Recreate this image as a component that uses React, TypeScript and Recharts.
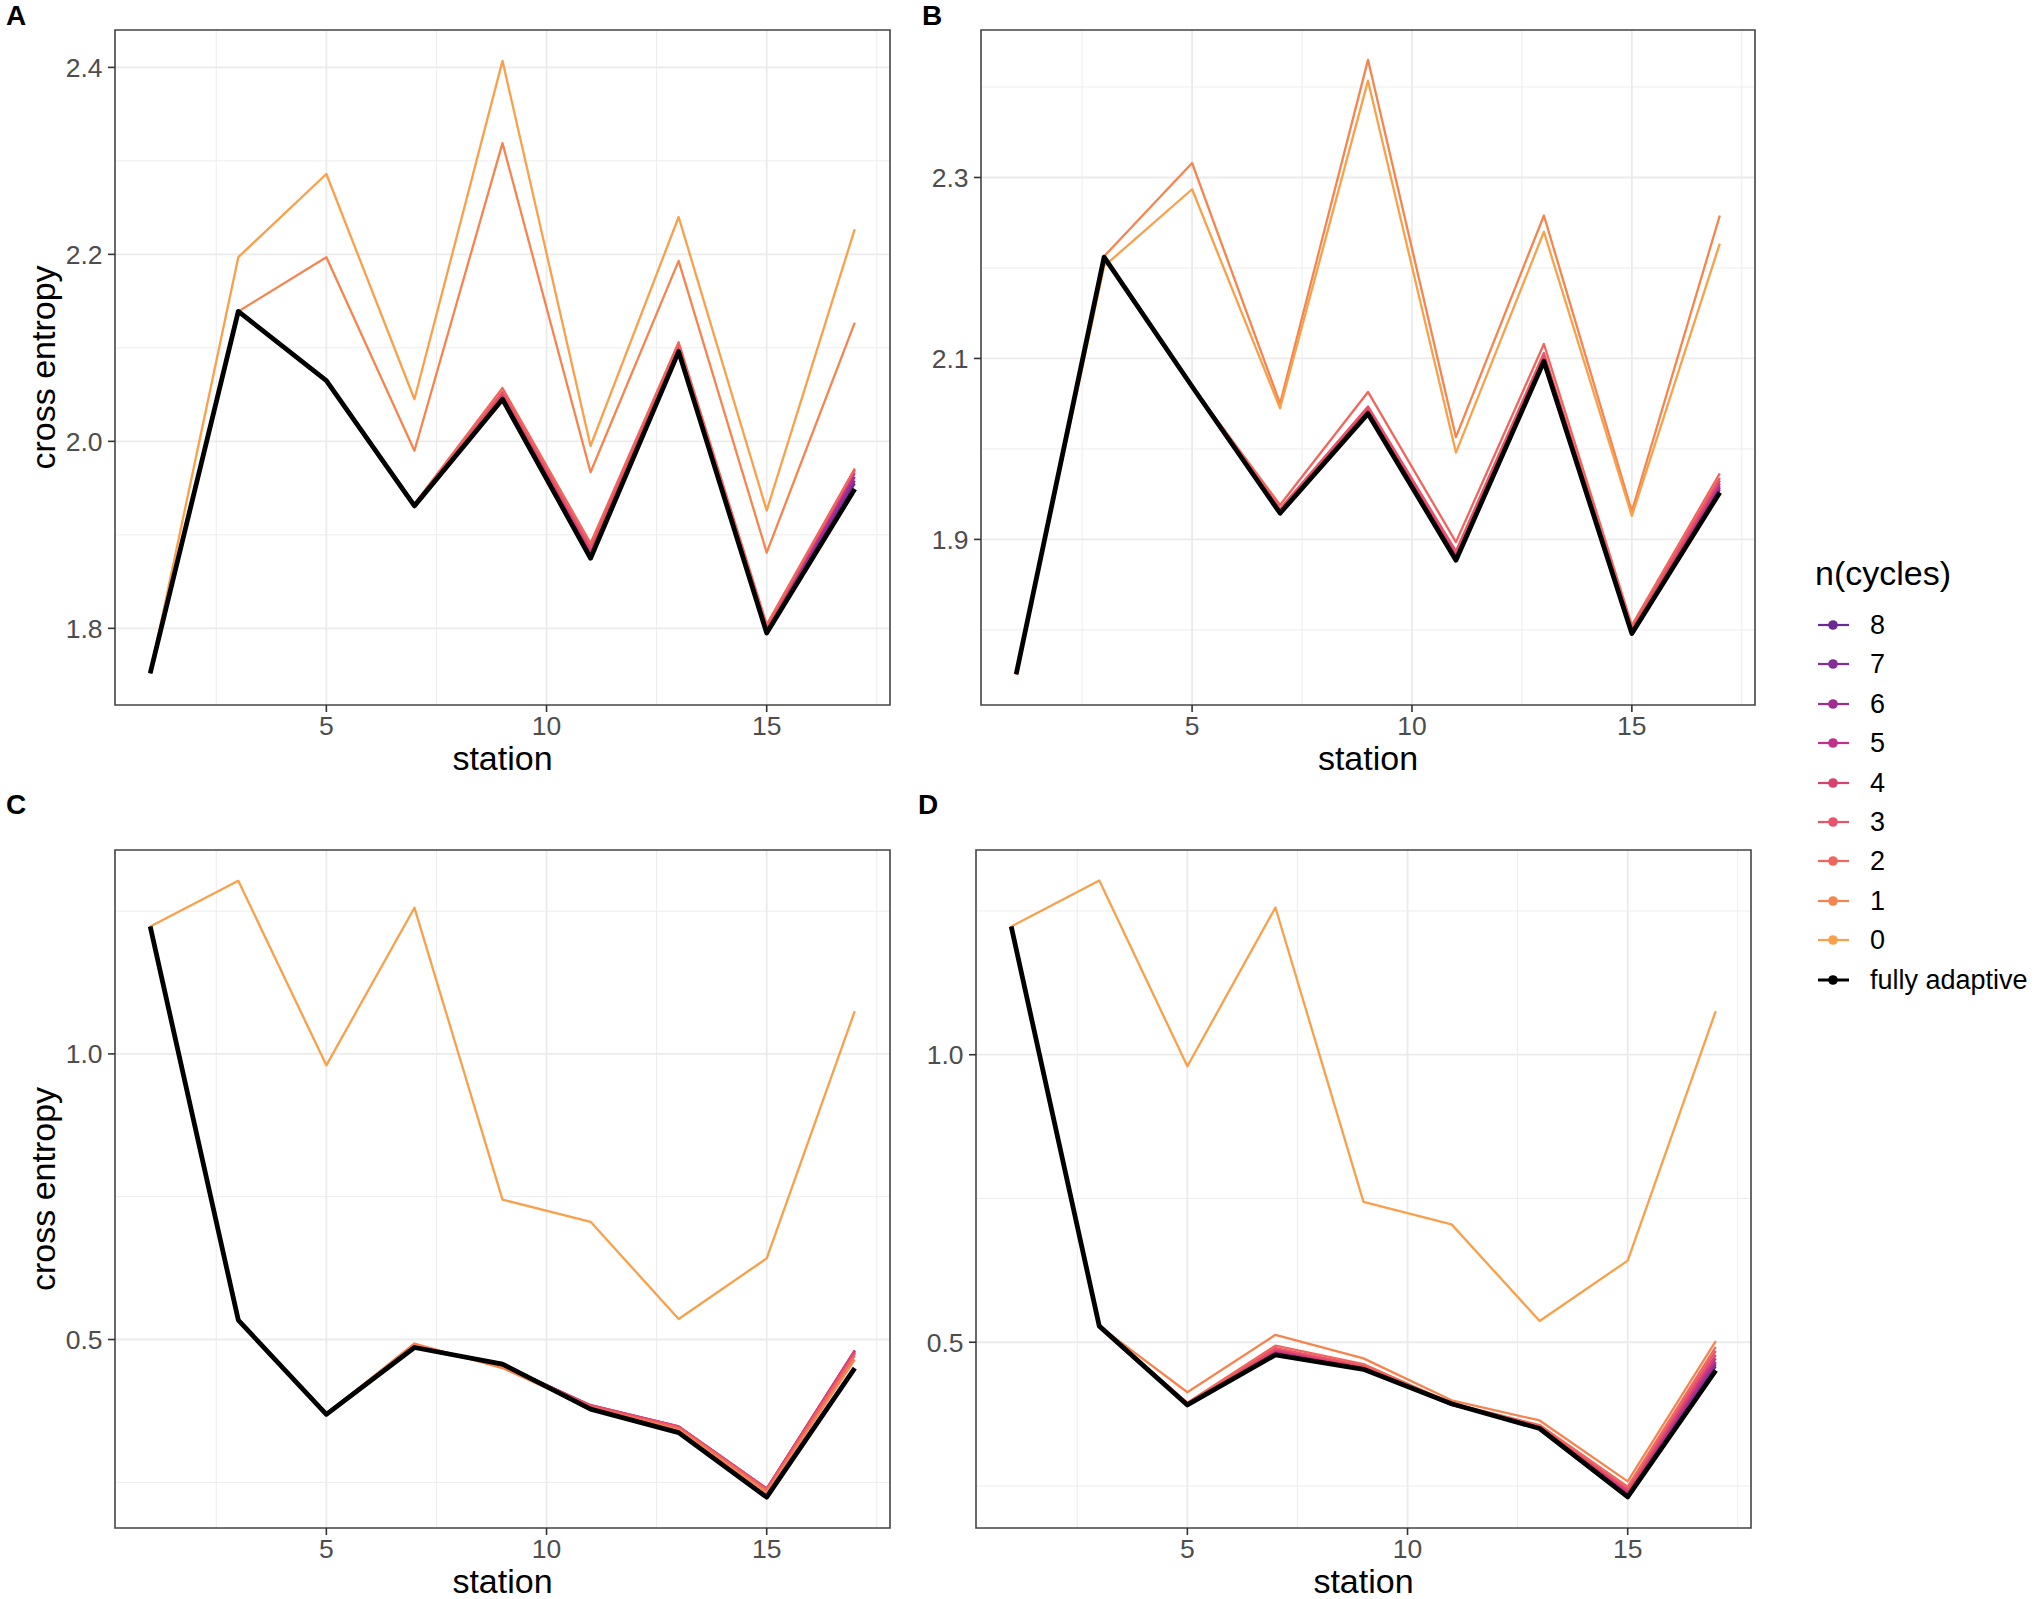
import React from 'react';
import { LineChart, Line, XAxis, YAxis, CartesianGrid, ReferenceArea, Legend, Label } from 'recharts';

const stations = [1, 3, 5, 7, 9, 11, 13, 15, 17];
const seriesKeys = ['c8', 'c7', 'c6', 'c5', 'c4', 'c3', 'c2', 'c1', 'c0', 'full'];
const seriesNames = ['8', '7', '6', '5', '4', '3', '2', '1', '0', 'fully adaptive'];
const seriesColors = ['#6b2a93', '#852e98', '#a12c91', '#c0318a', '#d8416f', '#e8526a', '#f1665c', '#f6844f', '#f9a04b', '#000000'];

const xTicks = [5, 10, 15];
const xMinor = [2.5, 7.5, 12.5, 17.5];

// panel A
const a0 = [1.752, 2.197, 2.286, 2.045, 2.407, 1.995, 2.24, 1.926, 2.227];
const a1 = [1.752, 2.139, 2.197, 1.99, 2.319, 1.967, 2.193, 1.881, 2.127];
const a2 = [1.752, 2.139, 2.065, 1.933, 2.057, 1.891, 2.106, 1.804, 1.971];
const a3 = [1.752, 2.139, 2.065, 1.932, 2.053, 1.887, 2.104, 1.802, 1.969];
const a4 = [1.752, 2.139, 2.065, 1.932, 2.051, 1.884, 2.102, 1.801, 1.97];
const a5 = [1.752, 2.139, 2.065, 1.931, 2.049, 1.882, 2.1, 1.8, 1.966];
const a6 = [1.752, 2.139, 2.065, 1.931, 2.048, 1.88, 2.099, 1.799, 1.962];
const a7 = [1.752, 2.139, 2.065, 1.931, 2.047, 1.878, 2.098, 1.798, 1.958];
const a8 = [1.752, 2.139, 2.065, 1.931, 2.046, 1.877, 2.097, 1.797, 1.955];
const aFull = [1.752, 2.139, 2.065, 1.931, 2.045, 1.875, 2.096, 1.795, 1.949];
const aTicks = [1.8, 2.0, 2.2, 2.4];
const aMinor = [1.9, 2.1, 2.3];

// panel B
const b0 = [1.751, 2.202, 2.287, 2.045, 2.407, 1.996, 2.24, 1.926, 2.227];
const b1 = [1.751, 2.213, 2.316, 2.05, 2.43, 2.013, 2.258, 1.931, 2.258];
const b2 = [1.751, 2.212, 2.069, 1.938, 2.063, 1.897, 2.116, 1.805, 1.973];
const b3 = [1.751, 2.212, 2.069, 1.934, 2.047, 1.887, 2.106, 1.802, 1.968];
const b4 = [1.751, 2.212, 2.069, 1.932, 2.045, 1.884, 2.103, 1.8, 1.965];
const b5 = [1.751, 2.212, 2.069, 1.931, 2.043, 1.882, 2.101, 1.799, 1.962];
const b6 = [1.751, 2.212, 2.069, 1.93, 2.042, 1.88, 2.1, 1.798, 1.959];
const b7 = [1.751, 2.212, 2.069, 1.93, 2.041, 1.879, 2.099, 1.797, 1.957];
const b8 = [1.751, 2.212, 2.069, 1.929, 2.04, 1.878, 2.098, 1.797, 1.955];
const bFull = [1.751, 2.212, 2.069, 1.929, 2.039, 1.877, 2.097, 1.796, 1.952];
const bTicks = [1.9, 2.1, 2.3];
const bMinor = [1.8, 2.0, 2.2, 2.4];

// panel C
const c0 = [1.223, 1.303, 0.98, 1.256, 0.745, 0.706, 0.536, 0.642, 1.075];
const c1 = [1.223, 0.534, 0.369, 0.493, 0.45, 0.38, 0.342, 0.232, 0.465];
const c2 = [1.223, 0.534, 0.37, 0.491, 0.452, 0.382, 0.345, 0.236, 0.472];
const c3 = [1.223, 0.534, 0.37, 0.49, 0.454, 0.384, 0.347, 0.238, 0.476];
const c4 = [1.223, 0.534, 0.37, 0.489, 0.455, 0.385, 0.348, 0.239, 0.48];
const c5 = [1.223, 0.534, 0.37, 0.488, 0.456, 0.385, 0.348, 0.239, 0.481];
const c6 = [1.223, 0.534, 0.37, 0.488, 0.456, 0.384, 0.347, 0.238, 0.48];
const c7 = [1.223, 0.534, 0.369, 0.487, 0.457, 0.383, 0.346, 0.237, 0.478];
const c8 = [1.223, 0.534, 0.369, 0.487, 0.457, 0.382, 0.345, 0.236, 0.476];
const cFull = [1.223, 0.534, 0.369, 0.486, 0.457, 0.378, 0.337, 0.224, 0.45];

// panel D
const d0 = [1.223, 1.303, 0.98, 1.256, 0.744, 0.705, 0.537, 0.642, 1.076];
const d1 = [1.223, 0.528, 0.413, 0.513, 0.472, 0.399, 0.364, 0.258, 0.502];
const d2 = [1.223, 0.528, 0.395, 0.494, 0.462, 0.394, 0.356, 0.249, 0.492];
const d3 = [1.223, 0.528, 0.393, 0.49, 0.459, 0.392, 0.354, 0.245, 0.485];
const d4 = [1.223, 0.528, 0.392, 0.487, 0.457, 0.391, 0.353, 0.242, 0.478];
const d5 = [1.223, 0.528, 0.392, 0.485, 0.456, 0.391, 0.352, 0.24, 0.472];
const d6 = [1.223, 0.528, 0.391, 0.483, 0.455, 0.392, 0.351, 0.238, 0.466];
const d7 = [1.223, 0.528, 0.391, 0.481, 0.454, 0.392, 0.351, 0.236, 0.462];
const d8 = [1.223, 0.528, 0.391, 0.48, 0.454, 0.393, 0.35, 0.235, 0.458];
const dFull = [1.223, 0.528, 0.391, 0.478, 0.453, 0.393, 0.35, 0.231, 0.451];
const cdTicks = [0.5, 1.0];
const cdMinor = [0.25, 0.75, 1.25];

const FONT = '"Liberation Sans", Arial, Helvetica, sans-serif';

const toRows = (cols: number[][]) =>
  stations.map((s, i) => {
    const row: Record<string, number> = { station: s };
    seriesKeys.forEach((k, j) => {
      row[k] = cols[j][i];
    });
    return row;
  });

const LegendBox = () => (
  <div style={{ position: 'relative', width: 234, height: 460, fontFamily: FONT, color: '#000' }}>
    <div style={{ position: 'absolute', left: 15, top: 13, fontSize: 34, lineHeight: '40px', whiteSpace: 'nowrap' }}>n(cycles)</div>
    {seriesNames.map((name, i) => (
      <div
        key={name}
        style={{ position: 'absolute', left: 0, top: 85 + 39.4 * i - 20, height: 40, display: 'flex', alignItems: 'center' }}
      >
        <svg width={50} height={40}>
          <line x1={18} x2={49} y1={20} y2={20} stroke={seriesColors[i]} strokeWidth={i === 9 ? 3 : 2.2} />
          <circle cx={33} cy={20} r={4.8} fill={seriesColors[i]} />
        </svg>
        <span style={{ fontSize: 27, marginLeft: 20, whiteSpace: 'nowrap', lineHeight: '40px' }}>{name}</span>
      </div>
    ))}
  </div>
);

interface PanelProps {
  cols: number[][];
  left: number;
  top: number;
  width: number;
  height: number;
  margin: { top: number; right: number; bottom: number; left: number };
  yWidth: number;
  yDomain: [number, number];
  yTicks: number[];
  yMinor: number[];
  yTitle?: boolean;
  legend?: boolean;
}

const Panel: React.FC<PanelProps> = ({ cols, left, top, width, height, margin, yWidth, yDomain, yTicks, yMinor, yTitle, legend }) => {
  const rows = toRows(cols);
  return (
    <div style={{ position: 'absolute', left, top, fontFamily: FONT }}>
      <LineChart width={width} height={height} data={rows} margin={margin}>
        <CartesianGrid horizontalValues={yMinor} verticalValues={xMinor} stroke="#ededed" strokeWidth={1} />
        <CartesianGrid horizontalValues={yTicks} verticalValues={xTicks} stroke="#ebebeb" strokeWidth={1.8} />
        <XAxis
          dataKey="station"
          type="number"
          domain={[0.2, 17.8]}
          ticks={xTicks}
          allowDataOverflow
          axisLine={false}
          tickLine={{ stroke: '#333333', strokeWidth: 1.6 }}
          tickSize={7}
          tickMargin={4.5}
          tick={{ fill: '#4d4d4d', fontSize: 26.5 }}
          height={60}
        >
          <Label
            content={(p: any) => {
              const vb = p.viewBox || {};
              return (
                <text x={vb.x + vb.width / 2} y={vb.y + 65} textAnchor="middle" fontSize={34} fill="#000">
                  station
                </text>
              );
            }}
          />
        </XAxis>
        <YAxis
          type="number"
          domain={yDomain}
          ticks={yTicks}
          allowDataOverflow
          width={yWidth}
          axisLine={false}
          tickLine={{ stroke: '#333333', strokeWidth: 1.6 }}
          tickSize={7}
          tickMargin={5.5}
          tick={{ fill: '#4d4d4d', fontSize: 26.5 }}
          tickFormatter={(v: number) => v.toFixed(1)}
        >
          {yTitle && (
            <Label
              content={(p: any) => {
                const vb = p.viewBox || {};
                const cx = 43;
                const cy = vb.y + vb.height / 2;
                return (
                  <text x={cx} y={cy} dy="0.35em" textAnchor="middle" fontSize={34} fill="#000" transform={`rotate(-90, ${cx}, ${cy})`}>
                    cross entropy
                  </text>
                );
              }}
            />
          )}
        </YAxis>
        {seriesKeys.map((k, i) => (
          <Line
            key={k}
            type="linear"
            dataKey={k}
            name={seriesNames[i]}
            stroke={seriesColors[i]}
            strokeWidth={i === 9 ? 4.8 : 2.3}
            strokeLinejoin="round"
            dot={false}
            activeDot={false}
            isAnimationActive={false}
          />
        ))}
        <ReferenceArea
          x1={0.2}
          x2={17.8}
          y1={yDomain[0]}
          y2={yDomain[1]}
          fill="none"
          fillOpacity={0}
          stroke="#444444"
          strokeWidth={1.6}
          ifOverflow="visible"
        />
        {legend && (
          <Legend
            layout="horizontal"
            verticalAlign="middle"
            align="center"
            wrapperStyle={{ left: 900, top: 540, width: 234 }}
            content={() => <LegendBox />}
          />
        )}
      </LineChart>
    </div>
  );
};

const letterStyle: React.CSSProperties = {
  position: 'absolute',
  fontFamily: FONT,
  fontWeight: 'bold',
  fontSize: 28,
  lineHeight: '28px',
  color: '#000',
};

export default function App() {
  return (
    <div style={{ position: 'absolute', left: 0, top: 0, width: 2034, height: 1599, background: '#fff', overflow: 'hidden' }}>
      <Panel
        cols={[a8, a7, a6, a5, a4, a3, a2, a1, a0, aFull]}
        left={0}
        top={0}
        width={900}
        height={790}
        margin={{ top: 30, right: 10, bottom: 25, left: 0 }}
        yWidth={115}
        yDomain={[1.718, 2.44]}
        yTicks={aTicks}
        yMinor={aMinor}
        yTitle
      />
      <Panel
        cols={[b8, b7, b6, b5, b4, b3, b2, b1, b0, bFull]}
        left={900}
        top={0}
        width={1134}
        height={790}
        margin={{ top: 30, right: 279, bottom: 25, left: 0 }}
        yWidth={81}
        yDomain={[1.717, 2.463]}
        yTicks={bTicks}
        yMinor={bMinor}
        legend
      />
      <Panel
        cols={[c8, c7, c6, c5, c4, c3, c2, c1, c0, cFull]}
        left={0}
        top={790}
        width={900}
        height={809}
        margin={{ top: 60, right: 10, bottom: 11, left: 0 }}
        yWidth={115}
        yDomain={[0.17, 1.357]}
        yTicks={cdTicks}
        yMinor={cdMinor}
        yTitle
      />
      <Panel
        cols={[d8, d7, d6, d5, d4, d3, d2, d1, d0, dFull]}
        left={900}
        top={790}
        width={900}
        height={809}
        margin={{ top: 60, right: 49, bottom: 11, left: 0 }}
        yWidth={76}
        yDomain={[0.177, 1.356]}
        yTicks={cdTicks}
        yMinor={cdMinor}
      />
      <div style={{ ...letterStyle, left: 6, top: 2 }}>A</div>
      <div style={{ ...letterStyle, left: 922, top: 2 }}>B</div>
      <div style={{ ...letterStyle, left: 6, top: 791 }}>C</div>
      <div style={{ ...letterStyle, left: 918, top: 791 }}>D</div>
    </div>
  );
}
